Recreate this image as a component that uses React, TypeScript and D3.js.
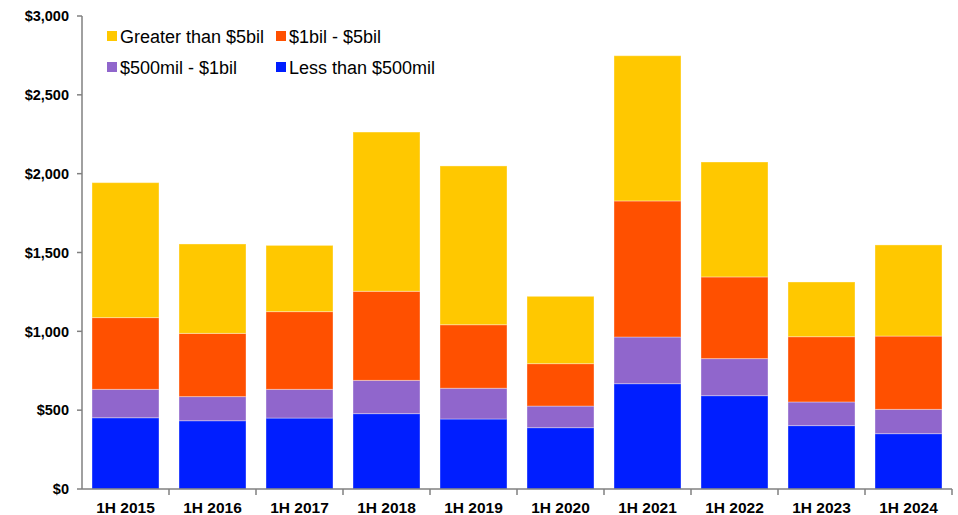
import React from "react";
import * as d3 from "d3";

const categories = ["1H 2015", "1H 2016", "1H 2017", "1H 2018", "1H 2019", "1H 2020", "1H 2021", "1H 2022", "1H 2023", "1H 2024"];
const lessThan500mil = [452, 433, 450, 478, 444, 389, 668, 592, 402, 351];
const mil500To1bil = [180, 153, 182, 211, 195, 137, 296, 235, 150, 154];
const bil1To5bil = [455, 401, 493, 565, 403, 269, 863, 518, 414, 465];
const greaterThan5bil = [856, 567, 420, 1010, 1007, 427, 921, 729, 347, 578];
const seriesNames = ["Less than $500mil", "$500mil - $1bil", "$1bil - $5bil", "Greater than $5bil"];
const seriesColors = ["#001EFF", "#9066CC", "#FF5000", "#FFC800"];
const yTicks = [0, 500, 1000, 1500, 2000, 2500, 3000];

const W = 958, H = 515;
const left = 82, right = 952, top = 16, bottom = 489;

export default function App() {
  const x = d3.scaleBand<string>().domain(categories).range([left, right]).paddingInner(0.23).paddingOuter(0.115);
  const y = d3.scaleLinear().domain([0, 3000]).range([bottom, top]);
  const rows = categories.map((c, i) => ({
    cat: c,
    s0: lessThan500mil[i],
    s1: mil500To1bil[i],
    s2: bil1To5bil[i],
    s3: greaterThan5bil[i],
  }));
  const stack = d3.stack<any>().keys(["s0", "s1", "s2", "s3"])(rows);
  const fmt = (v: number) => "$" + d3.format(",")(v);
  const font = "'Liberation Sans', Arial, sans-serif";
  const legendItems = [
    { name: seriesNames[3], color: seriesColors[3], lx: 107, ly: 31 },
    { name: seriesNames[2], color: seriesColors[2], lx: 276, ly: 31 },
    { name: seriesNames[1], color: seriesColors[1], lx: 107, ly: 62 },
    { name: seriesNames[0], color: seriesColors[0], lx: 276, ly: 62 },
  ];
  const step = x.step();
  return (
    <svg width={W} height={H} style={{ position: "absolute", left: 0, top: 0 }} fontFamily={font}>
      {stack.map((layer, si) => (
        <g key={si}>
          {layer.map((d, i) => (
            <rect
              key={i}
              x={x(categories[i])!}
              width={x.bandwidth()}
              y={y(d[1])}
              height={y(d[0]) - y(d[1])}
              fill={seriesColors[si]}
              stroke="rgba(255,255,255,0.35)"
              strokeWidth={1}
            />
          ))}
        </g>
      ))}
      <line x1={left} x2={left} y1={top} y2={bottom} stroke="#808080" strokeWidth={1.5} />
      {yTicks.map((t) => (
        <g key={t}>
          <line x1={left - 5} x2={left} y1={y(t)} y2={y(t)} stroke="#808080" strokeWidth={1.5} />
          <text x={69} y={y(t)} dy="0.36em" textAnchor="end" fontSize={14.5} fontWeight="bold" fill="#000">
            {fmt(t)}
          </text>
        </g>
      ))}
      <line x1={left} x2={right} y1={bottom} y2={bottom} stroke="#808080" strokeWidth={1.5} />
      {categories.map((c, i) => (
        <g key={c}>
          <line x1={left + step * (i + 1)} x2={left + step * (i + 1)} y1={bottom} y2={bottom + 6} stroke="#808080" strokeWidth={1.5} />
          <text x={x(c)! + x.bandwidth() / 2} y={513} textAnchor="middle" fontSize={15.5} fontWeight="bold" fill="#000">
            {c}
          </text>
        </g>
      ))}
      {legendItems.map((l) => (
        <g key={l.name}>
          <rect x={l.lx} y={l.ly} width={10} height={10} fill={l.color} />
          <text x={l.lx + 13} y={l.ly + 12} fontSize={18} fill="#000">
            {l.name}
          </text>
        </g>
      ))}
    </svg>
  );
}
